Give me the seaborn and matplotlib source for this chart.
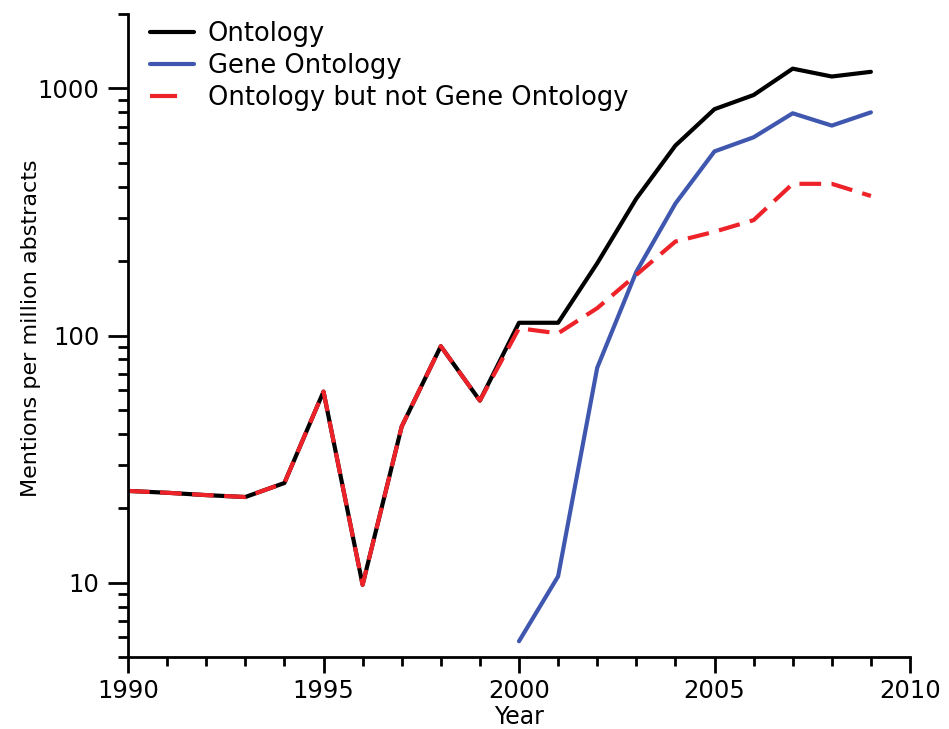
import numpy as np
import pandas as pd
import matplotlib
matplotlib.use("Agg")
import matplotlib.pyplot as plt
import matplotlib.ticker as mticker
import seaborn as sns

years_all = [1990, 1991, 1992, 1993, 1994, 1995, 1996, 1997, 1998, 1999,
             2000, 2001, 2002, 2003, 2004, 2005, 2006, 2007, 2008, 2009]
ontology = [23.5, 23.1, 22.6, 22.2, 25.3, 59.3, 9.8, 42.8, 90.5, 54.5,
            112.6, 112.6, 196, 358, 587, 824, 940, 1202, 1117, 1167]
years_go = [2000, 2001, 2002, 2003, 2004, 2005, 2006, 2007, 2008, 2009]
gene_ontology = [5.79, 10.6, 74, 181, 342, 556, 634, 793, 707, 800]
not_go = [23.5, 23.1, 22.6, 22.2, 25.3, 59.3, 9.8, 42.8, 90.5, 54.5,
          107, 102, 129, 176, 240, 263, 293, 411, 411, 367]
labels = ["Ontology", "Gene Ontology", "Ontology but not Gene Ontology"]
ytick_vals = [10, 100, 1000]
ytick_labels = ["10", "100", "1000"]

sns.set_style("ticks")
plt.rcParams['font.family'] = ['DejaVu Sans']
plt.rcParams['text.color'] = 'black'
plt.rcParams['axes.labelcolor'] = 'black'

fig = plt.figure(figsize=(9.49, 7.29), dpi=100)
ax = fig.add_axes([128/949, 1-657/729, (910-128)/949, (657-14)/729])

df1 = pd.DataFrame({"Year": years_all, "v": ontology})
df2 = pd.DataFrame({"Year": years_go, "v": gene_ontology})
df3 = pd.DataFrame({"Year": years_all, "v": not_go})

sns.lineplot(data=df1, x="Year", y="v", ax=ax, color="black", lw=3, label=labels[0])
sns.lineplot(data=df2, x="Year", y="v", ax=ax, color="#3F57AE", lw=3, label=labels[1])
sns.lineplot(data=df3, x="Year", y="v", ax=ax, color="#EE2229", lw=3, label=labels[2])
ax.lines[2].set_dashes((5.2, 2.5))

ax.set_yscale("log")
ax.set_xlim(1990, 2010)
ax.set_ylim(5, 2000)

ax.yaxis.set_major_locator(mticker.FixedLocator(ytick_vals))
ax.yaxis.set_major_formatter(mticker.FixedFormatter(ytick_labels))
ax.yaxis.set_minor_locator(mticker.LogLocator(base=10, subs=np.arange(2, 10)))
ax.yaxis.set_minor_formatter(mticker.NullFormatter())

ax.xaxis.set_major_locator(mticker.MultipleLocator(5))
ax.xaxis.set_minor_locator(mticker.MultipleLocator(1))

for side in ["top", "right"]:
    ax.spines[side].set_visible(False)
for side in ["left", "bottom"]:
    ax.spines[side].set_linewidth(2)
    ax.spines[side].set_color("black")

ax.tick_params(axis="both", which="both", width=2, colors="black", labelsize=17.5,
               labelcolor="black")
ax.tick_params(axis="x", which="major", length=11.5, pad=4)
ax.tick_params(axis="x", which="minor", length=6.5)
ax.tick_params(axis="y", which="major", length=14.5, pad=6)
ax.tick_params(axis="y", which="minor", length=7)

ax.set_xlabel("Year", fontsize=17, labelpad=2, color="black")
ax.set_ylabel("Mentions per million abstracts", fontsize=16, color="black")
ax.yaxis.set_label_coords((41 - 128) / 782, (657 - 328) / 643)

leg = ax.legend(loc="upper left", bbox_to_anchor=(150/949, 1-21/729),
                bbox_transform=fig.transFigure, frameon=False, borderpad=0,
                borderaxespad=0, fontsize=18.5, handlelength=1.7,
                handletextpad=0.55, labelspacing=0.24)
for t in leg.get_texts():
    t.set_color("black")
for i, h in enumerate(leg.get_lines()):
    h.set_linewidth(3)
    if i == 2:
        h.set_dashes((6.5, 10))

fig.savefig("out.png", dpi=100)
